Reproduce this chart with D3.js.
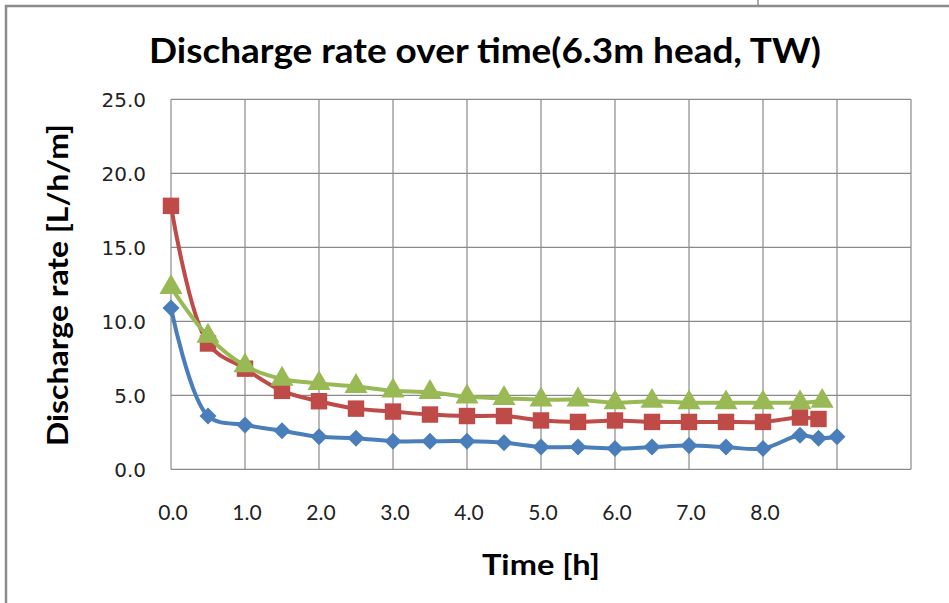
<!DOCTYPE html>
<html lang="en">

<head>
    <meta charset="UTF-8">
    <title>Discharge rate over time</title>
    <script src="https://d3js.org/d3.v7.min.js"></script>
</head>
<style>
    body { margin: 0; background: #fff; }
    text { font-family: Carlito, Calibri, "Open Sans", sans-serif; fill: #000; }
</style>

<body>
    <svg class="chart"></svg>
</body>

<script>
    // values
    const blueTime = [0, 0.5, 1, 1.5, 2, 2.5, 3, 3.5, 4, 4.5, 5, 5.5, 6, 6.5, 7, 7.5, 8, 8.5, 8.75, 9]
    const blueRate = [10.9, 3.6, 3.0, 2.6, 2.2, 2.1, 1.9, 1.9, 1.9, 1.8, 1.5, 1.5, 1.4, 1.5, 1.6, 1.5, 1.4, 2.3, 2.1, 2.2]
    const redTime = [0, 0.5, 1, 1.5, 2, 2.5, 3, 3.5, 4, 4.5, 5, 5.5, 6, 6.5, 7, 7.5, 8, 8.5, 8.75]
    const redRate = [17.8, 8.5, 6.8, 5.3, 4.6, 4.1, 3.9, 3.7, 3.6, 3.6, 3.3, 3.2, 3.3, 3.2, 3.2, 3.2, 3.2, 3.5, 3.4]
    const greenTime = [0, 0.5, 1, 1.5, 2, 2.5, 3, 3.5, 4, 4.5, 5, 5.5, 6, 6.5, 7, 7.5, 8, 8.5, 8.8]
    const greenRate = [12.3, 9.0, 7.0, 6.1, 5.8, 5.6, 5.3, 5.2, 4.9, 4.8, 4.7, 4.7, 4.5, 4.6, 4.5, 4.5, 4.5, 4.5, 4.6]
    const xGrid = [0, 1, 2, 3, 4, 5, 6, 7, 8, 9, 10]
    const xTickLabels = [0, 1, 2, 3, 4, 5, 6, 7, 8]
    const yTicks = [0, 5, 10, 15, 20, 25]

    const svgW = 949
    const svgH = 603
    const svg = d3.select(".chart").attr("width", svgW).attr("height", svgH)

    // outer frame (cropped chart border)
    svg.append("path")
        .attr("d", `M6,${svgH} V6 H${svgW}`)
        .attr("fill", "none").attr("stroke", "#8c8c8c").attr("stroke-width", 2.5)
    svg.append("line").attr("x1", 758).attr("x2", 758).attr("y1", 0).attr("y2", 6)
        .attr("stroke", "#8c8c8c").attr("stroke-width", 1.5)

    const x = d3.scaleLinear().domain([0, 10]).range([171, 911])
    const y = d3.scaleLinear().domain([0, 25]).range([469.3, 99.3])

    const g = svg.append("g")

    // grid
    g.selectAll(".vgrid").data(xGrid).join("line")
        .attr("x1", d => x(d)).attr("x2", d => x(d))
        .attr("y1", y(0)).attr("y2", y(25))
        .attr("stroke", "#8a8a8a").attr("stroke-width", 1.2)
    g.selectAll(".hgrid").data(yTicks).join("line")
        .attr("x1", x(0)).attr("x2", x(10))
        .attr("y1", d => y(d)).attr("y2", d => y(d))
        .attr("stroke", "#8a8a8a").attr("stroke-width", 1.2)

    // tick labels
    g.selectAll(".ylab").data(yTicks).join("text")
        .attr("x", 146).attr("y", d => y(d))
        .attr("dy", "0.36em")
        .attr("text-anchor", "end")
        .style("font-family", "'DejaVu Sans', sans-serif")
        .style("font-size", "20px")
        .style("fill", "#222")
        .text(d => d3.format(".1f")(d))
    g.selectAll(".xlab").data(xTickLabels).join("text")
        .attr("x", d => x(d) + 2).attr("y", 520)
        .attr("text-anchor", "middle")
        .style("font-family", "Lato, sans-serif")
        .style("font-size", "21px")
        .style("fill", "#222")
        .text(d => d3.format(".1f")(d))

    // series
    const series = [
        { t: blueTime, v: blueRate, color: "#4a7ebb", shape: d3.symbolSquare, size: 145, rot: 45 },
        { t: redTime, v: redRate, color: "#be4b48", shape: d3.symbolSquare, size: 270, rot: 0 },
        { t: greenTime, v: greenRate, color: "#98b954", shape: d3.symbolTriangle, size: 230, rot: 0 }
    ]

    const line = d3.line()
        .x(d => x(d[0])).y(d => y(d[1]))
        .curve(d3.curveCatmullRom.alpha(0.5))

    series.forEach(s => {
        const pts = s.t.map((t, i) => [t, s.v[i]])
        g.append("path")
            .attr("d", line(pts))
            .attr("fill", "none")
            .attr("stroke", s.color)
            .attr("stroke-width", 4)
            .attr("stroke-linejoin", "round")
        g.selectAll(null).data(pts).join("path")
            .attr("transform", d => `translate(${x(d[0])},${y(d[1])}) rotate(${s.rot})`)
            .attr("d", d3.symbol().type(s.shape).size(s.size))
            .attr("fill", s.color)
    })

    // titles
    svg.append("text")
        .attr("x", 485).attr("y", 63)
        .attr("text-anchor", "middle")
        .attr("textLength", 672).attr("lengthAdjust", "spacingAndGlyphs")
        .style("font-family", "Lato, sans-serif")
        .style("font-size", "35px").style("font-weight", "bold")
        .text("Discharge rate over time(6.3m head, TW)")

    svg.append("text")
        .attr("x", 541).attr("y", 575)
        .attr("text-anchor", "middle")
        .attr("textLength", 118).attr("lengthAdjust", "spacingAndGlyphs")
        .style("font-family", "Lato, sans-serif")
        .style("font-size", "29px").style("font-weight", "bold")
        .text("Time [h]")

    svg.append("text")
        .attr("transform", "translate(68,285) rotate(-90)")
        .attr("text-anchor", "middle")
        .attr("textLength", 322).attr("lengthAdjust", "spacingAndGlyphs")
        .style("font-family", "Lato, sans-serif")
        .style("font-size", "29px").style("font-weight", "bold")
        .text("Discharge rate [L/h/m]")
</script>

</html>
